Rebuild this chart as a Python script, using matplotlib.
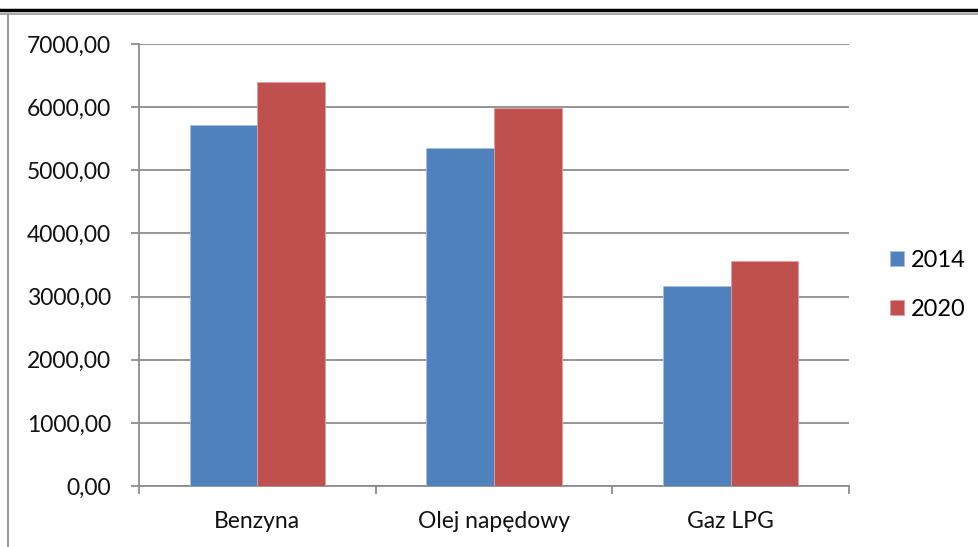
import numpy as np
import matplotlib.pyplot as plt
from matplotlib.lines import Line2D
from matplotlib.ticker import FuncFormatter

# data
categories = ['Benzyna', 'Olej napędowy', 'Gaz LPG']
series_names = ['2014', '2020']
values_2014 = [5712, 5348, 3172]
values_2020 = [6394, 5990, 3559]
colors = ['#4f81bd', '#c0504d']

plt.rcParams['font.family'] = ['Lato', 'DejaVu Sans']

fig = plt.figure(figsize=(9.79, 5.47), dpi=100)
ax = fig.add_axes([139 / 979, 1 - 486 / 547, 710 / 979, 442 / 547])

x = np.arange(len(categories))
w = 1 / 3.5
ax.bar(x - w / 2, values_2014, w, color=colors[0], edgecolor='#a7c0de', linewidth=0.6, label=series_names[0], zorder=3)
ax.bar(x + w / 2, values_2020, w, color=colors[1], edgecolor='#dfa09e', linewidth=0.6, label=series_names[1], zorder=3)

ax.set_xlim(-0.5, len(categories) - 0.5)
ax.set_ylim(0, 7000)
ax.set_yticks(np.arange(0, 7001, 1000))
ax.yaxis.set_major_formatter(FuncFormatter(lambda v, p: f'{v:.2f}'.replace('.', ',')))
ax.grid(axis='y', color='#8c8c8c', linewidth=1.3, zorder=0)

ax.set_xticks(x)
ax.set_xticklabels(categories)
ax.set_xticks(np.arange(-0.5, len(categories)), minor=True)
ax.tick_params(axis='x', which='major', length=0, pad=18, labelsize=16.5, labelcolor='#111111')
ax.tick_params(axis='x', which='minor', length=6, width=1.3, color='#8c8c8c', direction='out')
ax.tick_params(axis='y', length=6, width=1.3, color='#8c8c8c', labelsize=16.5, pad=14, labelcolor='#111111')

for s in ['top', 'right']:
    ax.spines[s].set_visible(False)
for s in ['left', 'bottom']:
    ax.spines[s].set_color('#8c8c8c')
    ax.spines[s].set_linewidth(1.3)

leg = ax.legend(loc='center left', bbox_to_anchor=(1.034, 0.455), frameon=False, fontsize=17,
                handlelength=0.6, handleheight=0.6, handletextpad=0.3, labelspacing=1.2,
                borderpad=0.2)

# page decoration: thick rule on top, chart border on the left
fig.add_artist(Line2D([0, 1], [1 - 10 / 547, 1 - 10 / 547], color='black', linewidth=2.5))
fig.add_artist(Line2D([0, 1], [1 - 13.5 / 547, 1 - 13.5 / 547], color='#9a9a9a', linewidth=1.2))
fig.add_artist(Line2D([8.5 / 979, 8.5 / 979], [0, 1 - 13.5 / 547], color='#9a9a9a', linewidth=1.5))

fig.savefig('out.png', dpi=100)
